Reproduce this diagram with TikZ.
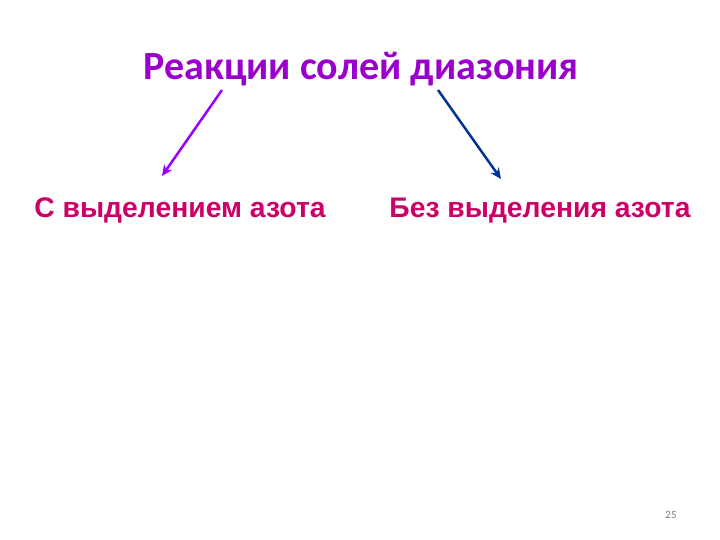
\documentclass[tikz,border=0pt]{standalone}
\usepackage{fontspec}
\setmainfont{Liberation Sans}
\newfontfamily\calibrifont{Carlito}
\usetikzlibrary{arrows.meta}
\definecolor{titleviolet}{RGB}{153,0,204}
\definecolor{labelred}{RGB}{204,0,102}
\definecolor{arrowviolet}{RGB}{153,0,255}
\definecolor{arrowblue}{RGB}{0,51,153}
\tikzset{
    every node/.style={inner sep=0pt, anchor=base}
}
\tikzset{
    branch/.style={line width=2.5pt, -{Stealth[length=11pt, width=10pt]}}
}
\begin{document}
\begin{tikzpicture}[x=1pt, y=-1pt]
  \useasboundingbox (0,0) rectangle (720,540);
  \node (title) [text=titleviolet, font=\calibrifont\bfseries\fontsize{40}{48}\selectfont]
    at (361, 80) {Реакции солей диазония};

  \node (withN) [text=labelred, font=\bfseries\fontsize{28.3}{34}\selectfont]
    at (180, 218) {С выделением азота};
  \node (withoutN) [text=labelred, font=\bfseries\fontsize{28.3}{34}\selectfont]
    at (540, 218) {Без выделения азота};

  \node (page) [text=gray, font=\calibrifont\fontsize{11}{13}\selectfont] at (671, 518) {25};

  \coordinate (l1) at (222, 90); \coordinate (l2) at (162, 176);
  \coordinate (r1) at (438, 90); \coordinate (r2) at (501, 179);

  \draw[branch, arrowviolet] (l1) -- (l2);
  \draw[branch, arrowblue] (r1) -- (r2);
\end{tikzpicture}
\end{document}
